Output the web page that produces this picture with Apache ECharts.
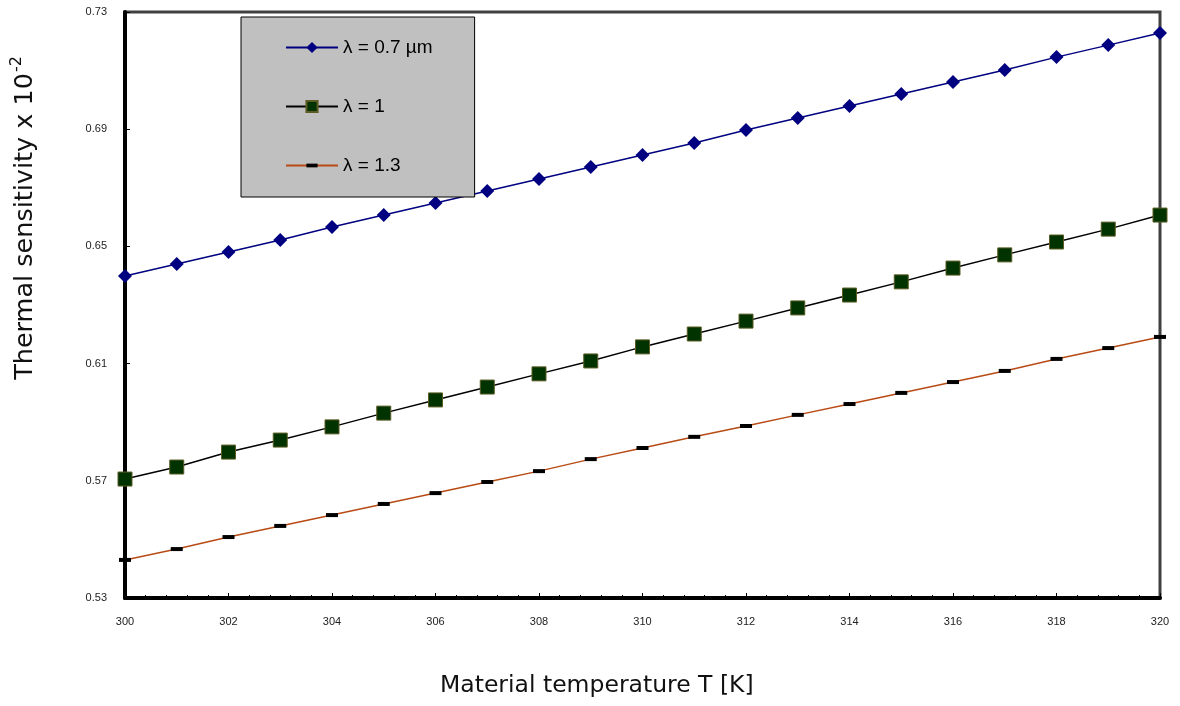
<!DOCTYPE html>
<html>
<head>
<meta charset="utf-8">
<script src="https://cdn.jsdelivr.net/npm/echarts@6/dist/echarts.min.js"></script>
<style>html,body{margin:0;padding:0;background:#fff;}#chart{width:1180px;height:706px;}</style>
</head>
<body>
<div id="chart"></div>
<script>
const temperatures = [300,301,302,303,304,305,306,307,308,309,310,311,312,313,314,315,316,317,318,319,320];
const seriesNames = ['λ = 0.7 µm', 'λ = 1', 'λ = 1.3'];
const lambda07 = [0.6399,0.6440,0.6481,0.6522,0.6566,0.6607,0.6648,0.6689,0.6730,0.6771,0.6812,0.6853,0.6897,0.6938,0.6979,0.7020,0.7061,0.7102,0.7146,0.7187,0.7228];
const lambda10 = [0.5706,0.5747,0.5798,0.5839,0.5884,0.5931,0.5976,0.6020,0.6065,0.6109,0.6157,0.6201,0.6245,0.6290,0.6334,0.6379,0.6426,0.6471,0.6515,0.6559,0.6607];
const lambda13 = [0.5430,0.5467,0.5508,0.5546,0.5583,0.5621,0.5658,0.5696,0.5733,0.5774,0.5812,0.5850,0.5887,0.5925,0.5962,0.6000,0.6037,0.6075,0.6116,0.6153,0.6191];
const xTitle = 'Material temperature T [K]';
const yTitleMain = 'Thermal sensitivity x 10';
const yTitleSup = '-2';

const chart = echarts.init(document.getElementById('chart'), null, {renderer: 'canvas'});
const pairs = arr => temperatures.map((t, i) => [t, arr[i]]);
const labelFont = {fontFamily: 'Liberation Sans, Arial, sans-serif', fontSize: 11, color: '#222'};
// square bounding box with a thin horizontal bar in the middle (dash marker)
const dashPath = 'path://M0,0 M30,30 M0,10 L30,10 L30,20 L0,20 Z';

chart.setOption({
  animation: false,
  backgroundColor: '#fff',
  grid: {left: 125, right: 20, top: 12, bottom: 108, show: true, borderColor: '#404040', borderWidth: 3, backgroundColor: 'transparent'},
  legend: {
    orient: 'vertical',
    left: 241, top: 17,
    backgroundColor: '#c0c0c0',
    borderColor: '#000', borderWidth: 1,
    padding: [21, 42, 22, 44],
    itemWidth: 52, itemHeight: 14, itemGap: 40,
    textStyle: {fontFamily: 'Liberation Sans, Arial, sans-serif', fontSize: 19, color: '#000'},
    data: seriesNames
  },
  xAxis: {
    type: 'value', min: 300, max: 320, interval: 2,
    axisLine: {show: true, lineStyle: {color: '#000', width: 4}},
    axisTick: {show: true, inside: true, length: 5, lineStyle: {color: '#000', width: 1}},
    minorTick: {show: true, splitNumber: 5, length: 3, lineStyle: {color: '#000', width: 1}},
    splitLine: {show: false},
    axisLabel: Object.assign({margin: 18}, labelFont)
  },
  yAxis: {
    type: 'value', min: 0.53, max: 0.73, interval: 0.04,
    axisLine: {show: true, lineStyle: {color: '#000', width: 4}},
    axisTick: {show: true, inside: true, length: 5, lineStyle: {color: '#000', width: 1}},
    splitLine: {show: false},
    axisLabel: Object.assign({margin: 18, formatter: v => v.toFixed(2)}, labelFont)
  },
  graphic: [
    {type: 'text', left: 440, top: 674, style: {text: xTitle, fontFamily: 'DejaVu Sans, Verdana, sans-serif', fontSize: 23.5, fill: '#111'}},
    {type: 'text', x: 25, y: 218, rotation: Math.PI / 2,
     style: {text: '{m|' + yTitleMain + '}{s|' + yTitleSup + '}', align: 'center', verticalAlign: 'middle',
       rich: {m: {fontFamily: 'DejaVu Sans, Verdana, sans-serif', fontSize: 25.5, fill: '#111', lineHeight: 32},
              s: {fontFamily: 'DejaVu Sans, Verdana, sans-serif', fontSize: 16, fill: '#111', padding: [0, 0, 16, 1]}}}}
  ],
  series: [
    {name: seriesNames[0], type: 'line', data: pairs(lambda07), symbol: 'diamond', symbolSize: 14,
     lineStyle: {color: '#000080', width: 1.5}, itemStyle: {color: '#000080'}},
    {name: seriesNames[1], type: 'line', data: pairs(lambda10), symbol: 'rect', symbolSize: 14,
     lineStyle: {color: '#000', width: 1.5}, itemStyle: {color: '#003300', borderColor: '#5c5c24', borderWidth: 1}},
    {name: seriesNames[2], type: 'line', data: pairs(lambda13), symbol: dashPath, symbolSize: 12, symbolKeepAspect: false,
     lineStyle: {color: '#b84a14', width: 1.5}, itemStyle: {color: '#000'}}
  ]
});
</script>
</body>
</html>
